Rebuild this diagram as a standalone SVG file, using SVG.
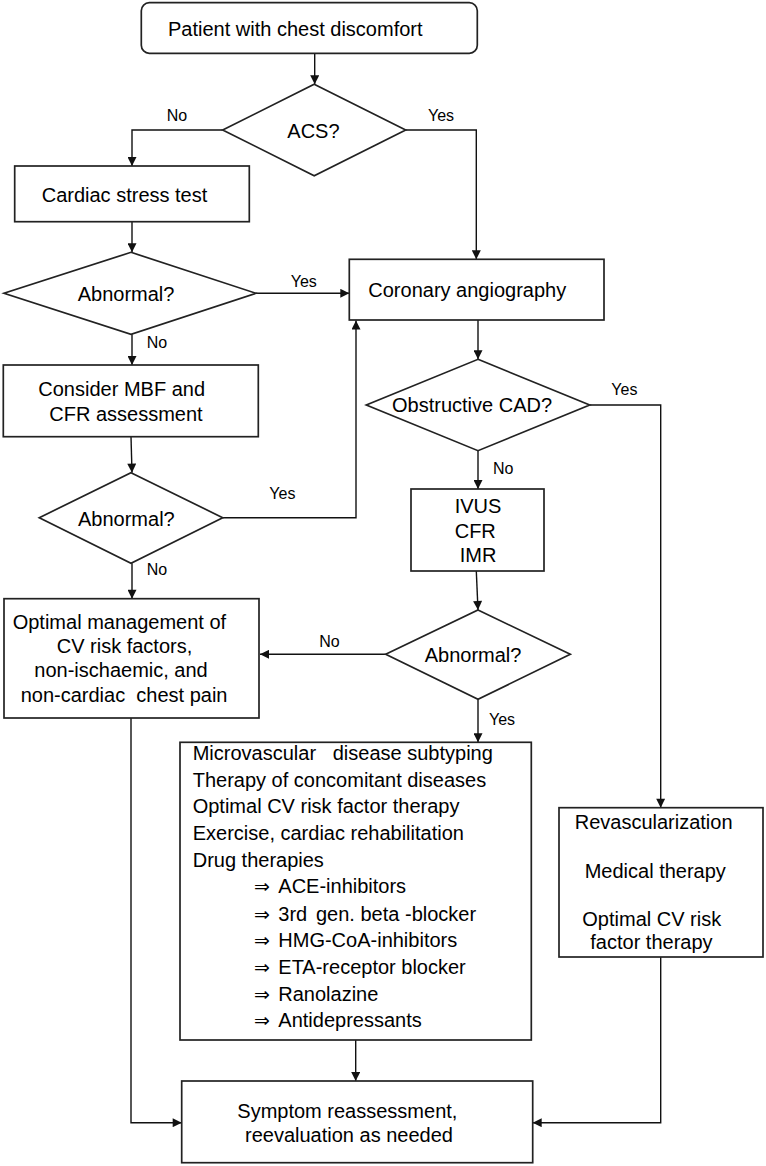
<svg xmlns="http://www.w3.org/2000/svg" width="766" height="1166" viewBox="0 0 766 1166">
<style>
text{font-family:"Liberation Sans",Arial,sans-serif;fill:#000}
.t{font-size:20px}
.l{font-size:16px}
.ar{font-family:"DejaVu Sans",sans-serif;font-size:19px}
.box{fill:#fff;stroke:#222;stroke-width:1.7}
.c{fill:none;stroke:#111;stroke-width:1.4}
</style>
<defs>
<marker id="ah" viewBox="0 0 10 10" refX="10" refY="5" markerWidth="10" markerHeight="9" markerUnits="userSpaceOnUse" orient="auto">
<path d="M0,0 L10,5 L0,10 z" fill="#111"/>
</marker>
</defs>
<rect width="766" height="1166" fill="#fff"/>
<g id="connectors">
<path class="c" d="M314.7,53.3 V84.3" marker-end="url(#ah)"/>
<path class="c" d="M222.7,130 H132 V166" marker-end="url(#ah)"/>
<path class="c" d="M405.7,130 H476.3 V259.3" marker-end="url(#ah)"/>
<path class="c" d="M132,221.7 V252.3" marker-end="url(#ah)"/>
<path class="c" d="M256,293.3 H349.3" marker-end="url(#ah)"/>
<path class="c" d="M132,334.3 V365" marker-end="url(#ah)"/>
<path class="c" d="M131,436.7 L132,472.7" marker-end="url(#ah)"/>
<path class="c" d="M222.7,517.7 H356 V320.5" marker-end="url(#ah)"/>
<path class="c" d="M132,563.3 V598.7" marker-end="url(#ah)"/>
<path class="c" d="M478,320 V359.3" marker-end="url(#ah)"/>
<path class="c" d="M589.7,405 H660.7 V807.7" marker-end="url(#ah)"/>
<path class="c" d="M478,450.7 V489" marker-end="url(#ah)"/>
<path class="c" d="M476.3,571 L478,610" marker-end="url(#ah)"/>
<path class="c" d="M385.7,654.3 H260" marker-end="url(#ah)"/>
<path class="c" d="M478,699.3 V742.3" marker-end="url(#ah)"/>
<path class="c" d="M131,718 V1122.7 H181.7" marker-end="url(#ah)"/>
<path class="c" d="M355.7,1040 V1081" marker-end="url(#ah)"/>
<path class="c" d="M660.7,957 V1122.7 H532.7" marker-end="url(#ah)"/>
<text class="l" x="166.7" y="121">No</text>
<text class="l" x="428" y="121">Yes</text>
<text class="l" x="290.7" y="287.3">Yes</text>
<text class="l" x="146.7" y="347.7">No</text>
<text class="l" x="269.3" y="499">Yes</text>
<text class="l" x="146.7" y="575">No</text>
<text class="l" x="611.3" y="395">Yes</text>
<text class="l" x="493" y="474">No</text>
<text class="l" x="319.3" y="646.7">No</text>
<text class="l" x="489" y="725">Yes</text>
</g>
<g id="start">
<rect class="box" x="141.3" y="2.7" width="336" height="50.6" rx="8"/>
<text class="t" x="168" y="36">Patient with chest discomfort</text>
</g>
<g id="acs">
<polygon class="box" points="314.2,84.3 405.7,130 314.2,175.7 222.7,130"/>
<text class="t" x="287.3" y="137.7">ACS?</text>
</g>
<g id="stress">
<rect class="box" x="14.7" y="166" width="234.6" height="55.7"/>
<text class="t" x="41.7" y="202">Cardiac stress test</text>
</g>
<g id="abn1">
<polygon class="box" points="131,252.3 256,293.3 131,334.3 4,293.3"/>
<text class="t" x="77.7" y="301">Abnormal?</text>
</g>
<g id="coronary">
<rect class="box" x="349.3" y="259.3" width="254.7" height="60.7"/>
<text class="t" x="368.3" y="296.7">Coronary angiography</text>
</g>
<g id="consider">
<rect class="box" x="3.3" y="365" width="255" height="71.7"/>
<text class="t" x="38.3" y="396">Consider MBF and</text>
<text class="t" x="49.3" y="420.7">CFR assessment</text>
</g>
<g id="abn2">
<polygon class="box" points="131,472.7 222.7,517.7 131,563.3 39.3,517.7"/>
<text class="t" x="78" y="525.7">Abnormal?</text>
</g>
<g id="obstructive">
<polygon class="box" points="478,359.3 589.7,405 478,450.7 366.3,405"/>
<text class="t" x="392" y="411.7">Obstructive CAD?</text>
</g>
<g id="ivus">
<rect class="box" x="411" y="489" width="133" height="82"/>
<text class="t" x="454.7" y="513.3">IVUS</text>
<text class="t" x="454.7" y="537.7">CFR</text>
<text class="t" x="459.7" y="561.7">IMR</text>
</g>
<g id="optimal">
<rect class="box" x="4" y="598.7" width="255" height="119.3"/>
<text class="t" x="12.7" y="629">Optimal management of</text>
<text class="t" x="56.7" y="653.3">CV risk factors,</text>
<text class="t" x="34.3" y="677.3">non-ischaemic, and</text>
<text class="t" x="20.7" y="701.7" xml:space="preserve">non-cardiac  chest pain</text>
</g>
<g id="abn3">
<polygon class="box" points="478,610 570.3,654.3 478,699.3 385.7,654.3"/>
<text class="t" x="424.7" y="661.7">Abnormal?</text>
</g>
<g id="micro">
<rect class="box" x="180" y="742.3" width="351.3" height="297.7"/>
<text class="t" x="192.7" y="760" xml:space="preserve">Microvascular   disease subtyping</text>
<text class="t" x="192.7" y="786.7">Therapy of concomitant diseases</text>
<text class="t" x="192.7" y="813.3">Optimal CV risk factor therapy</text>
<text class="t" x="192.7" y="840">Exercise, cardiac rehabilitation</text>
<text class="t" x="192.7" y="866.7">Drug therapies</text>
<text class="t" y="893.3"><tspan class="ar" x="254">⇒</tspan><tspan x="278.3">ACE-inhibitors</tspan></text>
<text class="t" y="920.7"><tspan class="ar" x="254">⇒</tspan><tspan x="278.3">3rd</tspan><tspan x="316">gen. beta -blocker</tspan></text>
<text class="t" y="947.3"><tspan class="ar" x="254">⇒</tspan><tspan x="278.3">HMG-CoA-inhibitors</tspan></text>
<text class="t" y="974.3"><tspan class="ar" x="254">⇒</tspan><tspan x="278.3">ETA-receptor blocker</tspan></text>
<text class="t" y="1000.7"><tspan class="ar" x="254">⇒</tspan><tspan x="278.3">Ranolazine</tspan></text>
<text class="t" y="1027.3"><tspan class="ar" x="254">⇒</tspan><tspan x="278.3">Antidepressants</tspan></text>
</g>
<g id="revasc">
<rect class="box" x="559" y="807.7" width="204" height="149.3"/>
<text class="t" x="574.7" y="828.7">Revascularization</text>
<text class="t" x="584.7" y="877.7">Medical therapy</text>
<text class="t" x="582.3" y="926">Optimal CV risk</text>
<text class="t" x="590.3" y="948.7">factor therapy</text>
</g>
<g id="symptom">
<rect class="box" x="181.7" y="1081" width="351" height="81.7"/>
<text class="t" x="237.3" y="1117.7">Symptom reassessment,</text>
<text class="t" x="245" y="1141.7">reevaluation as needed</text>
</g>
</svg>
